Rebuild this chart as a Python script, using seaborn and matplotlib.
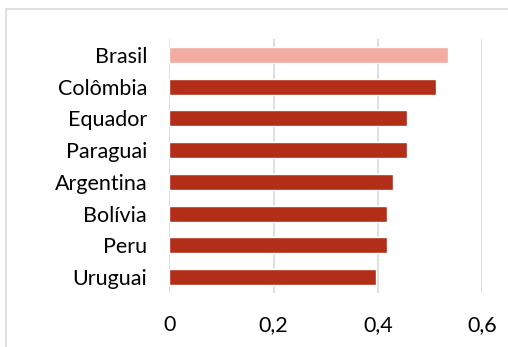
import matplotlib
matplotlib.use("Agg")
import matplotlib.pyplot as plt
import seaborn as sns
import pandas as pd
from matplotlib.patches import Rectangle
from matplotlib.ticker import FuncFormatter

# values
paises = ["Brasil", "Colômbia", "Equador", "Paraguai", "Argentina", "Bolívia", "Peru", "Uruguai"]
valores = [0.534, 0.512, 0.457, 0.457, 0.429, 0.417, 0.417, 0.397]
destaque = "Brasil"

df = pd.DataFrame({"pais": paises, "valor": valores})
cores = {p: ("#F1ADA2" if p == destaque else "#B22E18") for p in paises}

sns.set_style("white")
plt.rcParams["font.family"] = ["Lato", "DejaVu Sans"]

fig = plt.figure(figsize=(5.08, 3.47), dpi=100)
ax = fig.add_axes([169.3 / 508, 1 - 293 / 347, (482 - 169.3) / 508, (293 - 39) / 347])

sns.barplot(data=df, x="valor", y="pais", hue="pais", palette=cores,
            legend=False, width=0.5, ax=ax, saturation=1, zorder=3)

ax.set_xlim(0, 0.6)
ax.set_ylim(7.5, -0.5)
ax.set_xticks([0, 0.2, 0.4, 0.6])
ax.xaxis.set_major_formatter(FuncFormatter(lambda v, p: ("%g" % round(v, 1)).replace(".", ",")))
ax.grid(axis="x", color="#D9D9D9", linewidth=1.2, zorder=0)
ax.grid(axis="y", visible=False)
for s in ax.spines.values():
    s.set_visible(False)
ax.tick_params(axis="both", length=0, labelsize=15.5, colors="black")
ax.tick_params(axis="x", pad=16)
ax.tick_params(axis="y", pad=16)
ax.set_xlabel("")
ax.set_ylabel("")

# light frame around the chart area
fig.patches.append(Rectangle((6 / 508, -0.1), 1.2, 1 - 9 / 347 + 0.1,
                             transform=fig.transFigure, fill=False,
                             edgecolor="#D9D9D9", linewidth=1.2))

fig.savefig("out.png", dpi=100)
